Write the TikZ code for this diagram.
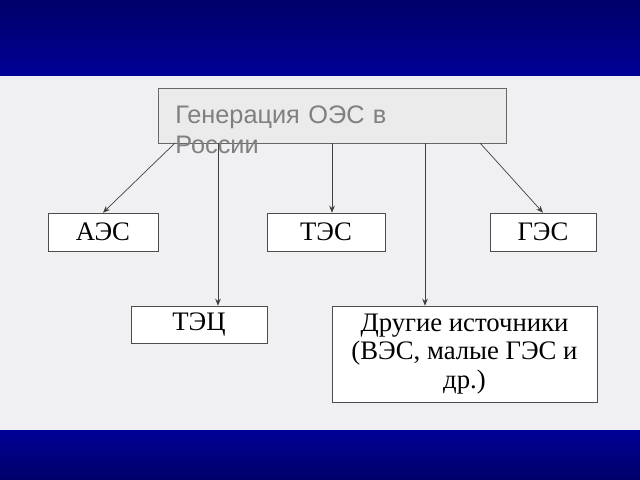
\documentclass[tikz,border=0pt]{standalone}
\usepackage{fontspec}
\setmainfont{Liberation Serif}
\newfontfamily\headfont{Liberation Sans}
\usetikzlibrary{arrows.meta}
\definecolor{bandblue}{RGB}{0,0,150}
\definecolor{paper}{RGB}{240,240,242}
\tikzset{
	plant/.style={draw=black!70,fill=white,inner sep=0pt,font=\fontsize{19}{20}\selectfont},
	link/.style={-{Stealth[length=5pt,width=4pt]},draw=black!75,line width=0.5pt}
}
\begin{document}
\begin{tikzpicture}[x=0.025cm,y=-0.025cm]
	\useasboundingbox (0,0) rectangle (640,480);
	\fill[paper] (0,0) rectangle (640,480);
	\shade[top color=bandblue!70!black,bottom color=bandblue] (0,0) rectangle (640,75);
	\shade[top color=bandblue,bottom color=bandblue!70!black] (0,430) rectangle (640,480);

	\node (gen) [draw=black!60,fill=black!8,minimum width=348*0.025cm,minimum height=55*0.025cm,anchor=north west] at (158,88) {};
	\node (genlabel) [anchor=north west,text width=240*0.025cm,inner sep=0pt,font=\headfont\fontsize{18}{21}\selectfont,text=black!50] at (175,106) {Генерация ОЭС в России};

	\node (aes) [plant,minimum width=110*0.025cm,minimum height=38*0.025cm] at (103,232) {АЭС};
	\node (tes) [plant,minimum width=118*0.025cm,minimum height=38*0.025cm] at (326,232) {ТЭС};
	\node (ges) [plant,minimum width=106*0.025cm,minimum height=38*0.025cm] at (543,232) {ГЭС};
	\node (tec) [plant,minimum width=136*0.025cm,minimum height=37*0.025cm] at (199,324.5) {ТЭЦ};
	\node (other) [plant,minimum width=265*0.025cm,minimum height=96*0.025cm,align=center] at (464.5,354) {Другие источники\\(ВЭС, малые ГЭС и\\др.)};

	\coordinate (s1) at (175,143);
	\coordinate (s2) at (218,143);
	\coordinate (s3) at (332,143);
	\coordinate (s4) at (425,143);
	\coordinate (s5) at (480,143);
	\draw[link] (s1) -- (aes.north);
	\draw[link] (s2) -- (s2 |- tec.north);
	\draw[link] (s3) -- (s3 |- tes.north);
	\draw[link] (s4) -- (s4 |- other.north);
	\draw[link] (s5) -- (ges.north);
\end{tikzpicture}
\end{document}
